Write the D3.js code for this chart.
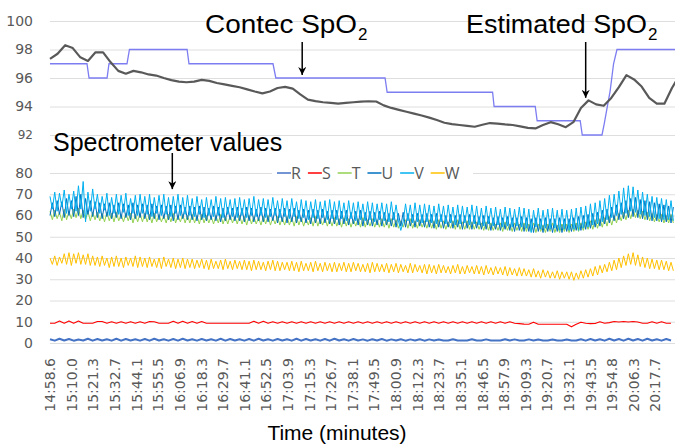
<!DOCTYPE html>
<html lang="en">
<head>
<meta charset="utf-8">
<script src="https://d3js.org/d3.v7.min.js"></script>
<style>
  body { margin: 0; background: #fff; }
  svg { display: block; }
  .grid line { stroke: #dedede; stroke-width: 1; }
  .grid .domain { display: none; }
</style>
</head>
<body>
<svg width="675" height="445"></svg>
<script>
// tick labels on the time axis (mm:ss.s)
var timeLabels = ["14:58.6","15:10.0","15:21.3","15:32.7","15:44.1","15:55.5","16:06.9","16:18.3",
  "16:29.7","16:41.1","16:52.5","17:03.9","17:15.3","17:26.7","17:38.1","17:49.5","18:00.9",
  "18:12.3","18:23.7","18:35.1","18:46.5","18:57.9","19:09.3","19:20.7","19:32.1","19:43.5",
  "19:54.8","20:06.3","20:17.7"];

// estimated SpO2, one value every 4 s from 14:58.6
var estStep = 4;
var estimated = [97.34,97.7,98.3,98.1,97.45,97.2,97.8,97.8,97.1,96.5,
  96.3,96.5,96.4,96.25,96.17,96.0,95.85,95.75,95.7,95.75,
  95.87,95.8,95.65,95.55,95.45,95.35,95.2,95.05,94.92,95.05,
  95.3,95.38,95.25,94.85,94.48,94.38,94.3,94.25,94.2,94.25,
  94.3,94.34,94.37,94.35,94.08,93.9,93.76,93.63,93.5,93.37,
  93.22,93.05,92.86,92.76,92.7,92.64,92.58,92.72,92.84,92.8,
  92.74,92.7,92.6,92.5,92.46,92.7,92.9,92.75,92.55,92.9,
  93.9,94.43,94.15,94.05,94.6,95.36,96.2,95.9,95.4,94.6,
  94.2,94.2,95.3,96.2];

// Contec SpO2 readings (seconds after 14:58.6, value)
var contecTime = [0,19.5,20.6,30.1,31.1,40.6,41.9,72.3,73.3,117.6,119.1,176.7,177.8,
  233.4,234.2,255.9,256.9,279.6,280.7,291.1,292.3,295.4,297.2,299.0,332];
var contecValue = [97,97,96,96,97,97,98,98,97,97,96,96,95,95,94,94,93,93,92,92,92.8,95.1,97,98,98];

// spectrometer values: R and S every 2.5 s, T U V W every 1.25 s
var seriesNames = ["R","S","T","U","V","W"];
var seriesSteps = [2.5, 2.5, 1.25, 1.25, 1.25, 1.25];

var valuesR = [1.8,1.1,2,1.2,1.9,1.1,1.6,1.2,2,1.1,1.9,1.2,1.8,1.1,2,1.1,1.9,1.2,1.8,1.1,
  1.9,1.1,2,1.2,1.8,1.1,1.9,1.1,2,1.2,1.8,1.1,1.9,1.2,1.8,1.1,2,1.1,1.9,1.2,
  1.8,1.1,1.9,1.1,2,1.2,1.8,1.1,1.9,1.2,1.8,1.1,2,1.1,1.9,1.2,1.8,1.1,1.9,1.1,
  2,1.2,1.8,1.1,1.9,1.2,1.7,1.1,1.8,1.2,1.9,1.1,1.7,1.2,1.8,1.1,1.7,1.2,1.8,1.1,
  1.7,1.2,1.6,1.2,1.2,1.8,1.2,1.2,1.2,1.8,1.2,1.2,1.7,1.2,1.2,1.2,1.8,1.2,1.7,1.2,
  1.2,1.7,1.2,1.6,1.2,1.2,1.6,1.2,1.2,1.6,1.2,1.2,1.8,1.1,1.9,1.2,1.8,1.1,2,1.2,
  1.9,1.1,2,1.2,1.9,1.1,2,1.2,1.8,1.1,1.9,1.2];

var valuesS = [9.3,9.3,10.3,9.3,10.4,9.3,10.3,9.3,9.3,9.3,
  10.1,10.1,9.3,10,9.3,10,9.3,10,9.3,10,
  9.3,10.1,10,9.3,9.3,9.3,10.2,9.3,10.2,9.3,
  10.1,9.3,10.1,9.3,9.3,9.3,9.3,9.3,9.3,9.3,
  9.3,9.3,9.3,10.2,9.3,10.2,9.3,10,9.3,10,
  9.3,10,9.3,10,9.3,10,9.3,10,9.3,10,
  9.3,10,9.3,10,9.3,10,9.3,10,9.3,10,
  9.3,10,9.3,10,9.3,10,9.3,10,9.3,10,
  9.3,10,9.3,10,9.3,10,9.3,10,9.3,10,
  9.3,10,9.3,10,9.3,10,9.3,10,9.3,9.1,
  8.9,8.8,9.8,8.8,8.8,8.8,8.8,8.8,8.8,8.8,
  7.6,8.8,9.8,9.3,9.1,9.2,10,9.3,9.6,10.1,
  9.9,10.1,9.9,10.1,9.9,9.3,9.3,10,9.3,10,9.3,9.3];

var valuesT = [62,58,62.5,58.5,61.5,57.5,63,58,62,58.5,63,59,63.5,58.5,62.5,58,62,57.5,61.5,58,
  61.5,57.5,61,57,61.5,57.5,61,57,61.5,57.5,60.5,57,61,57.5,61,56.5,60.5,57,61,57,
  61,57,60.5,56.5,61,57,60.5,57,60,56.5,60.5,57,61,56.5,60,57,60.5,56.5,60,56.5,
  60.5,56.5,60,56,60.5,56.5,60,56.5,59.5,56,60,56.5,60.5,56,59.5,56,60,56.5,59.5,56,
  60,56,59.5,55.5,60,56,59.5,56,59,55.5,59.5,56,60,55.5,59,56,59.5,55.5,59,55.5,
  59.5,55.5,59,55,59.5,55.5,59,55,58.5,55.5,59,55,59.5,55,58.5,55.5,59,55,58.5,55,
  59,55,58.5,54.5,59,55,58.5,54.5,58,55,58.5,54.5,59,54.5,58,55,58.5,54.5,58,54.5,
  58.5,54.5,58,54,58.5,54.5,58,54,57.5,54.5,58,54,58.5,54,57.5,54,58,54.5,57.5,54,
  58,54,57.5,53.5,58,54,57.5,53.5,57,54,57.5,53.5,58,53.5,57,53.5,57.5,53.5,57,53.5,
  57,53.5,56.5,53,57,53,56.5,53,56,53,56.5,52.5,57,53,56,52.5,56.5,53,56,52.5,
  56.5,52.5,56,52.5,56.5,52,56,52.5,55.5,52,56,52.5,56.5,52,55.5,52,56,52.5,56,52,
  56,52.5,56.5,52.5,56.5,53,57,53.5,57.5,53.5,58,54,58.5,54.5,59,55,59.5,55.5,60,56.5,
  61,57.5,61.5,58,62.5,58.5,63,59,62.5,58.5,62,58,61.5,57.5,61,57,60.5,57,60.5,56.5,
  60,56.5,60.5,56.5];

var valuesU = [60,66,59.5,67,60.5,66.5,59,68,60,67,59.5,69,60,70,59,68,60.5,67,59.5,66.5,
  59,66,58.5,65.5,59.5,66,58.5,65,59,66,58.5,65.5,59,65,58,66,58.5,65,59,65.5,
  58.5,65,58,65.5,58.5,64.5,58,65,58.5,64.5,58,65,57.5,64.5,58,65,58.5,64,58,64.5,
  58,64,57.5,64.5,58,64,57.5,63.5,58,64.5,57.5,64,57,63.5,57.5,64,58,63.5,57.5,64,
  57.5,63.5,57,64,57.5,63.5,57,63,57.5,64,57,63.5,57,63,57.5,63.5,56.5,63,57,63.5,
  56.5,63,57,63.5,56.5,62.5,57,63,56.5,62.5,56,63,56.5,62.5,56,63,56.5,62,56,62.5,
  56,62.5,55.5,62,56,62.5,55.5,61.5,56,62,55.5,62.5,55,61.5,55.5,62,55,61.5,55.5,62,
  55,61.5,55.5,61,55,61.5,54.5,61,55,61.5,54.5,61,55,60.5,54.5,61,55,60.5,54.5,61,
  54.5,60.5,54,61,54.5,60.5,54,60,54.5,60.5,54,60,54.5,60.5,53.5,60,54,60.5,53.5,60,
  54,59.5,53.5,60,53.5,59.5,53,59,53.5,59.5,53,59,53.5,59.5,53,59,52.5,59,53,59.5,
  52.5,59,52.5,58.5,52,59,52.5,58.5,52,59,52.5,58.5,52,58.5,52.5,59,52,58.5,52.5,58.5,
  52.5,59,53,59.5,53,60,53.5,60.5,54,61,54.5,61.5,55,62.5,56,63,56.5,64,57.5,65,
  58,66,58.5,67,59,68,59.5,68.5,59,67.5,58.5,67,58,66.5,57.5,66,57.5,65.5,57,65,
  57,64.5,56.5,64];

var valuesV = [69,63,71,62,70.5,64,72,61,70,63,71.5,62,74,63,76,57,71,62,72.5,63,
  70,61,69,62.5,70.5,60,68.5,61,70,60.5,69.5,61.5,70.5,60,68,61,69.5,60,70,61,
  69,60.5,70,59.5,68.5,61,69.5,60,70,60.5,68.5,59.5,69,61,70,60,68.5,60.5,69.5,60,
  68,59.5,69,60.5,67.5,59,68.5,60,67.5,59.5,69,60,68,59,68.5,60.5,67.5,59.5,68,59,
  68.5,60,67.5,59,68,60,69,59.5,67.5,60,68,59,67.5,59.5,68.5,60,67,59,68,59.5,
  67,58.5,68,59.5,66.5,58.5,67.5,59,67,58,66.5,59,67.5,58.5,66.5,59,67,58,67.5,58.5,
  66.5,58,67,58.5,66,57.5,67,58.5,66,57.5,66.5,58,65.5,57.5,66.5,58,66,57,65.5,58,
  66,57.5,65.5,57,66.5,58,65,57.5,53,57,65.5,57.5,65,56.5,66,57,65,56.5,65.5,57,
  65,56.5,64.5,56,65.5,57,64.5,56,65,56.5,64,55.5,65,56,64.5,56.5,64,55.5,65,56,
  64.5,55.5,63.5,55,64.5,56,63.5,55,64,55.5,63,54.5,64,55,63.5,54.5,63,55,64,54.5,
  63.5,54,63,52,62.5,54.5,63.5,53.5,62.5,54,63,53.5,63.5,54,62.5,53,63,53.5,62.5,53,
  63,53.5,63.5,53,64,54,64.5,54.5,65.5,55.5,66,56,67,57,68,58,69.5,59,70,60,
  71.5,60.5,73,61,74,62,73.5,61.5,72,60.5,71,60,70,59.5,69,59,68.5,58.5,68,58,
  67.5,58,67,57.5];

var valuesW = [40,37,41,36.5,40.5,37.5,42,37,42.5,36.5,42,37.5,42.5,37,41.5,37,42,36.5,41,36.5,
  40.5,36,41,36.5,40,35.5,40.5,36,41,36,40,35.5,40.5,36.5,40,36,41,35.5,40.5,36,
  40,35.5,40.5,36,39.5,35.5,40,35,40.5,36,39.5,35.5,40,35,39.5,35.5,40,35,39.5,35.5,
  39.5,35,39,35.5,39.5,35,39,34.5,39.5,35,38.5,35,39,34.5,39.5,35,38.5,34.5,39,35,
  38.5,34.5,39,34.5,38.5,34,39,34.5,38.5,34.5,38,34,38.5,34.5,39,34,38.5,34,38,34.5,
  38,34,38.5,34,38,33.5,38.5,34,37.5,34,38,33.5,38.5,34,37.5,33.5,38,34,37.5,33.5,
  38,33.5,37.5,34,38,33.5,37.5,33.5,38,34,37.5,33.5,37,33.5,37.5,33,38,33.5,37.5,33.5,
  37,33.5,37.5,33,37,33.5,37.5,33,37,33.5,36.5,33,37.5,33,37,33.5,36.5,33,37,32.5,
  37,33,36.5,32.5,37,33,36.5,33,36,32.5,36.5,33,37,32.5,36,32.5,36.5,33,36,32.5,
  36.5,32.5,36,32,36.5,32.5,35.5,32,36,32.5,35.5,32,36,31.5,35.5,32,35,31.5,35.5,31.5,
  35,31.5,34.5,31,35,31,34,30.5,34.5,31,34,30.5,33.5,30.5,34,30,33.5,30.5,33.5,30,
  33.5,29.5,33,30,34,30.5,34.5,31,35,31.5,36,32,36.5,33,37,33.5,38,34,39,34.5,
  40,35.5,41,36.5,42,37,42.5,36.5,41.5,36,40.5,35.5,40,35,39.5,35,39,34.5,39,34.5,
  38.5,34,38,34];

var seriesValues = [valuesR, valuesS, valuesT, valuesU, valuesV, valuesW];
var seriesColors = ["#4472c4", "#ff0000", "#92d050", "#0070c0", "#00b0f0", "#ffc000"];
var seriesWidths = [2, 1.1, 1, 1, 1, 1];

var topTicks = [92, 94, 96, 98, 100];
var bottomTicks = [0, 10, 20, 30, 40, 50, 60, 70, 80];

// -------------------------------------------------------------------
function toSeconds(s) {
  var p = s.split(":");
  return +p[0] * 60 + +p[1];
}
var t0 = toSeconds(timeLabels[0]);
var tickSecs = timeLabels.map(function(s) { return toSeconds(s) - t0; });

var svg = d3.select("svg");
svg.append("rect").attr("width", 675).attr("height", 445).attr("fill", "#fff");

var left = 50, right = 675;
var x = d3.scaleLinear().domain([0, 329.6]).range([left, right]);
var yTop = d3.scaleLinear().domain([92, 100]).range([135, 21]);
var yBot = d3.scaleLinear().domain([0, 80]).range([343, 173]);

var tickFont = "'DejaVu Sans', sans-serif";

// gridlines
svg.append("g").attr("class", "grid").attr("transform", "translate(" + left + ",0)")
  .call(d3.axisLeft(yTop).tickValues(topTicks).tickSize(-(right - left)).tickFormat(""));
svg.append("g").attr("class", "grid").attr("transform", "translate(" + left + ",0)")
  .call(d3.axisLeft(yBot).tickValues(bottomTicks).tickSize(-(right - left)).tickFormat(""));

// y labels
function styleLabels(g) {
  g.select(".domain").remove();
  g.selectAll("line").remove();
  g.selectAll("text").attr("fill", "#595959").style("font-family", tickFont).style("font-size", "14px");
}
var topAxis = svg.append("g").attr("transform", "translate(" + left + ",0)")
  .call(d3.axisLeft(yTop).tickValues(topTicks).tickSize(0).tickPadding(17))
  .call(styleLabels);
topAxis.selectAll("text").filter(function(d) { return d === 92; }).style("font-size", "12px");
svg.append("g").attr("transform", "translate(" + left + ",0)")
  .call(d3.axisLeft(yBot).tickValues(bottomTicks).tickSize(0).tickPadding(17))
  .call(styleLabels);

// time axis
var xAxis = svg.append("g").attr("transform", "translate(0,352)")
  .call(d3.axisBottom(x).tickValues(tickSecs).tickSize(0)
    .tickFormat(function(d, i) { return timeLabels[i]; }));
xAxis.select(".domain").remove();
xAxis.selectAll("text")
  .attr("transform", "rotate(-90)")
  .attr("text-anchor", "end")
  .attr("x", -6).attr("y", 0).attr("dy", "0.35em")
  .attr("fill", "#595959")
  .style("font-family", tickFont).style("font-size", "14px");

svg.append("text").attr("x", 337).attr("y", 440).attr("text-anchor", "middle")
  .style("font-family", "'Liberation Sans', Arial, sans-serif").style("font-size", "21px")
  .text("Time (minutes)");

// spectrometer lines
seriesValues.forEach(function(vals, k) {
  var line = d3.line()
    .x(function(d, i) { return x(i * seriesSteps[k]); })
    .y(function(d) { return yBot(d); });
  svg.append("path").datum(vals)
    .attr("d", line)
    .attr("fill", "none")
    .attr("stroke", seriesColors[k])
    .attr("stroke-width", seriesWidths[k])
    .attr("stroke-linejoin", "round");
});

// Contec and estimated SpO2
var contecLine = d3.line()
  .x(function(d, i) { return x(contecTime[i]); })
  .y(function(d) { return yTop(d); });
svg.append("path").datum(contecValue).attr("d", contecLine)
  .attr("fill", "none").attr("stroke", "#7d7df2").attr("stroke-width", 1.3);

var estLine = d3.line()
  .x(function(d, i) { return x(i * estStep); })
  .y(function(d) { return yTop(d); });
svg.append("path").datum(estimated).attr("d", estLine)
  .attr("fill", "none").attr("stroke", "#595959").attr("stroke-width", 2.2)
  .attr("stroke-linejoin", "round");

// legend
var legend = svg.append("g");
legend.append("rect").attr("x", 272).attr("y", 164).attr("width", 201).attr("height", 18).attr("fill", "#fff");
var lx = 277;
seriesNames.forEach(function(name, k) {
  legend.append("line").attr("x1", lx).attr("x2", lx + 14).attr("y1", 173).attr("y2", 173)
    .attr("stroke", seriesColors[k]).attr("stroke-width", 1.5);
  var t = legend.append("text").attr("x", lx + 14).attr("y", 179)
    .attr("fill", "#595959")
    .style("font-family", "'Open Sans', sans-serif").style("font-size", "16px")
    .text(name);
  lx += 14 + t.node().getComputedTextLength() + 7;
});

// annotations
var bigFont = "'Liberation Sans', Arial, sans-serif";
function label(txt, x0, width, base) {
  svg.append("text").attr("x", x0).attr("y", base)
    .attr("textLength", width).attr("lengthAdjust", "spacingAndGlyphs")
    .style("font-family", bigFont).style("font-size", "26px").text(txt);
  svg.append("text").attr("x", x0 + width + 1).attr("y", base + 7)
    .style("font-family", bigFont).style("font-size", "17px").text("2");
}
label("Contec SpO", 205, 152, 33);
label("Estimated SpO", 466, 181, 33);
svg.append("text").attr("x", 53).attr("y", 151)
  .style("font-family", bigFont).style("font-size", "25px").text("Spectrometer values");

svg.append("defs").append("marker").attr("id", "head")
  .attr("viewBox", "0 0 10 10").attr("refX", 10).attr("refY", 5)
  .attr("markerUnits", "userSpaceOnUse").attr("markerWidth", 8).attr("markerHeight", 8)
  .attr("orient", "auto")
  .append("path").attr("d", "M0,0 L10,5 L0,10 L3,5 z").attr("fill", "#000");

function arrow(xp, y1, y2) {
  svg.append("line").attr("x1", xp).attr("x2", xp).attr("y1", y1).attr("y2", y2)
    .attr("stroke", "#000").attr("stroke-width", 1.5).attr("marker-end", "url(#head)");
}
arrow(x(133), 42, yTop(96) - 3);
arrow(x(282.5), 42, yTop(94.4) - 3);
arrow(x(64.5), 153, yBot(71) - 3);
</script>
</body>
</html>
